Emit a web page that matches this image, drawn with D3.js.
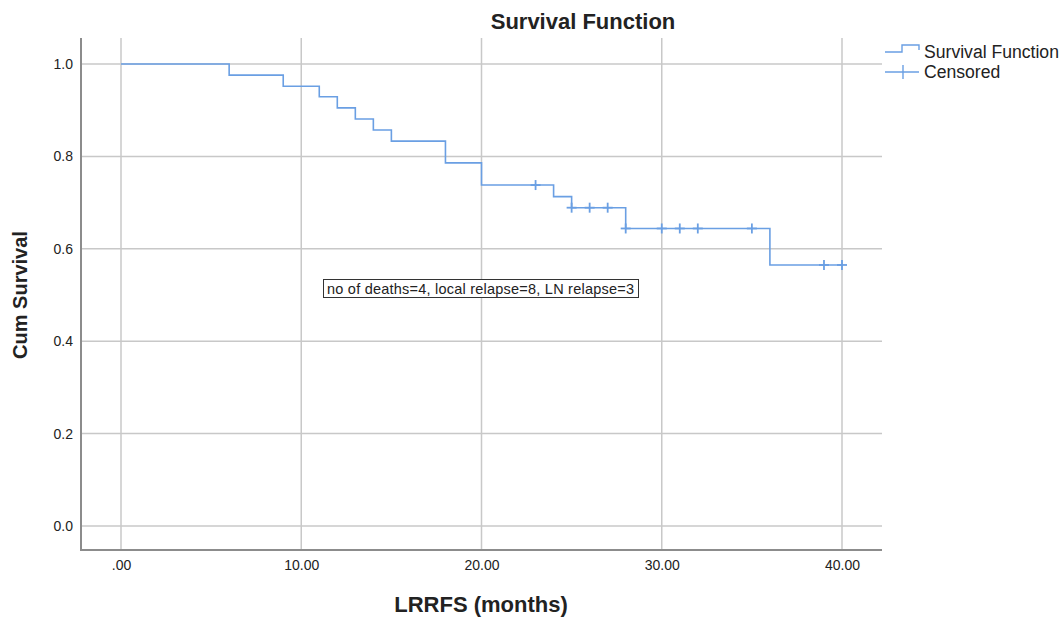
<!DOCTYPE html>
<html>
<head>
<meta charset="utf-8">
<title>Survival Function</title>
<script src="https://d3js.org/d3.v7.min.js"></script>
<style>
    body { margin: 0; background: #fff; }
    text { font-family: "Liberation Sans", Arial, sans-serif; fill: #222; }
    .grid line { stroke: #c8c8c8; stroke-width: 1.5; }
    .tick text { font-size: 14px; font-family: "Liberation Sans", Arial, sans-serif; fill: #222; }
</style>
</head>
<body>
<div id="chart"></div>
<script>
// step times (months) and survival after each step
var stepTimes = [0, 6, 9, 11, 12, 13, 14, 15, 18, 20, 24, 25, 28, 36];
var stepSurv  = [1.0, 0.976, 0.952, 0.929, 0.905, 0.881, 0.857, 0.833, 0.786, 0.738, 0.713, 0.689, 0.644, 0.565];
var endTime = 40;
// censored observations
var censTimes = [23, 25, 26, 27, 28, 30, 31, 32, 35, 39, 40];
var censSurv  = [0.738, 0.689, 0.689, 0.689, 0.644, 0.644, 0.644, 0.644, 0.644, 0.565, 0.565];

var xTicks = [0, 10, 20, 30, 40];
var xTickLabels = [".00", "10.00", "20.00", "30.00", "40.00"];
var yTicks = [0, 0.2, 0.4, 0.6, 0.8, 1.0];
var yTickLabels = ["0.0", "0.2", "0.4", "0.6", "0.8", "1.0"];

var W = 1064, H = 617;
var plotL = 81, plotR = 882, plotT = 38, plotB = 550;
var lineColor = "#6a9fe3";

var svg = d3.select("#chart").append("svg").attr("width", W).attr("height", H);

var x = d3.scaleLinear().domain([0, 40]).range([121, 842]);
var y = d3.scaleLinear().domain([0, 1]).range([526, 64]);

// grid
var grid = svg.append("g").attr("class", "grid");
grid.selectAll(".gy").data(yTicks).enter().append("line")
    .attr("x1", plotL).attr("x2", plotR)
    .attr("y1", function(d) { return y(d); }).attr("y2", function(d) { return y(d); });
grid.selectAll(".gx").data(xTicks).enter().append("line")
    .attr("y1", plotT).attr("y2", plotB)
    .attr("x1", function(d) { return x(d); }).attr("x2", function(d) { return x(d); });

// axes
svg.append("g")
    .attr("transform", "translate(" + plotL + ",0)")
    .call(d3.axisLeft(y).tickValues(yTicks).tickSize(0).tickPadding(8)
        .tickFormat(function(d, i) { return yTickLabels[i]; }))
    .call(function(g) { g.select(".domain").remove(); });
svg.append("g")
    .attr("transform", "translate(0," + plotB + ")")
    .call(d3.axisBottom(x).tickValues(xTicks).tickSize(0).tickPadding(10)
        .tickFormat(function(d, i) { return xTickLabels[i]; }))
    .call(function(g) { g.select(".domain").remove(); });

svg.append("line").attr("x1", plotL).attr("x2", plotL).attr("y1", plotT).attr("y2", plotB + 1)
    .attr("stroke", "#8c8c8c").attr("stroke-width", 2);
svg.append("line").attr("x1", plotL).attr("x2", plotR).attr("y1", plotB).attr("y2", plotB)
    .attr("stroke", "#8c8c8c").attr("stroke-width", 2);

// survival step line
var pts = stepTimes.map(function(t, i) { return [t, stepSurv[i]]; });
pts.push([endTime, stepSurv[stepSurv.length - 1]]);
var line = d3.line().curve(d3.curveStepAfter)
    .x(function(d) { return x(d[0]); })
    .y(function(d) { return y(d[1]); });
svg.append("path").datum(pts).attr("d", line)
    .attr("fill", "none").attr("stroke", lineColor).attr("stroke-width", 1.6);

// censor marks
var cens = svg.append("g").attr("stroke", lineColor).attr("stroke-width", 1.8);
censTimes.forEach(function(t, i) {
    var cx = x(t), cy = y(censSurv[i]);
    cens.append("line").attr("x1", cx - 5).attr("x2", cx + 5).attr("y1", cy).attr("y2", cy);
    cens.append("line").attr("x1", cx).attr("x2", cx).attr("y1", cy - 5).attr("y2", cy + 5);
});

// annotation box
var note = svg.append("g");
note.append("rect").attr("x", 323.5).attr("y", 279.5).attr("width", 315).attr("height", 18)
    .attr("fill", "#fff").attr("stroke", "#333").attr("stroke-width", 1);
note.append("text").attr("x", 327).attr("y", 293.5).attr("font-size", "14.5px")
    .attr("textLength", 307).attr("lengthAdjust", "spacing")
    .text("no of deaths=4, local relapse=8, LN relapse=3");

// titles
svg.append("text").attr("x", 583).attr("y", 29).attr("text-anchor", "middle")
    .attr("font-size", "22px").attr("font-weight", "bold").text("Survival Function");
svg.append("text").attr("x", 481).attr("y", 612).attr("text-anchor", "middle")
    .attr("font-size", "22px").attr("font-weight", "bold").text("LRRFS (months)");
svg.append("text").attr("transform", "translate(27,295) rotate(-90)").attr("text-anchor", "middle")
    .attr("font-size", "20px").attr("font-weight", "bold").text("Cum Survival");

// legend
var lg = svg.append("g").attr("fill", "none").attr("stroke", lineColor).attr("stroke-width", 1.4);
lg.append("path").attr("d", "M885,52H902V45H919V50");
lg.append("line").attr("x1", 885).attr("x2", 919).attr("y1", 72).attr("y2", 72);
lg.append("line").attr("x1", 903).attr("x2", 903).attr("y1", 65).attr("y2", 79);
svg.append("text").attr("x", 924).attr("y", 58).attr("font-size", "17.6px").text("Survival Function");
svg.append("text").attr("x", 924).attr("y", 78).attr("font-size", "17.6px").text("Censored");
</script>
</body>
</html>
